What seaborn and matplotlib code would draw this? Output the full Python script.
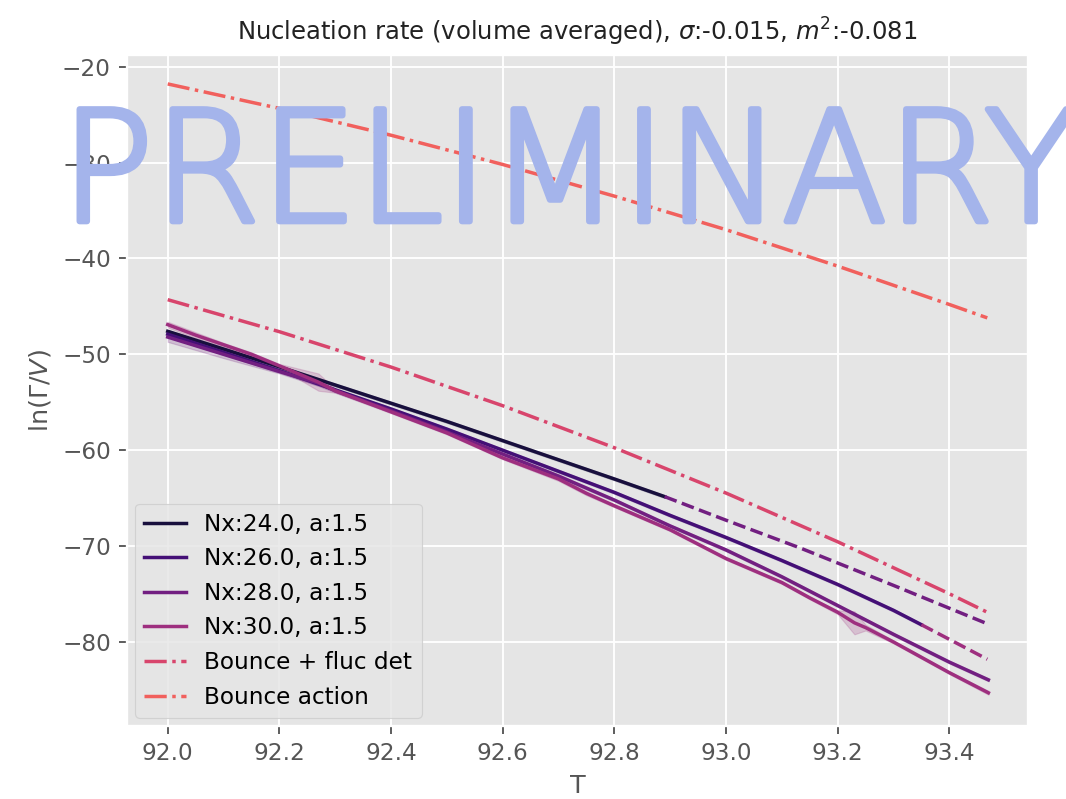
import numpy as np
import pandas as pd
import matplotlib
matplotlib.use("Agg")
import matplotlib.pyplot as plt
import matplotlib.patheffects as pe
import seaborn as sns

# ---------------- data ----------------
T_24 = [92.0, 92.1, 92.2, 92.3, 92.4, 92.5, 92.6, 92.7, 92.8, 92.89]
y_24 = [-47.6, -49.45, -51.3, -53.2, -55.1, -57.0, -59.0, -61.0, -63.0, -64.84]
s_24 = [0.15] * len(T_24)

T_26 = [92.0, 92.1, 92.2, 92.3, 92.4, 92.5, 92.6, 92.7, 92.8, 92.9, 93.0, 93.1, 93.2, 93.3, 93.35]
y_26 = [-47.9, -49.8, -51.7, -53.7, -55.7, -57.8, -60.0, -62.2, -64.4, -66.8, -69.1, -71.5, -74.0, -76.7, -78.2]
s_26 = [0.3, 0.25, 0.2, 0.15, 0.15, 0.15, 0.15, 0.15, 0.15, 0.15, 0.15, 0.15, 0.15, 0.15, 0.15]

T_28 = [92.0, 92.1, 92.2, 92.27, 92.3, 92.4, 92.5, 92.6, 92.7, 92.8, 92.9, 93.0, 93.1, 93.2, 93.3, 93.4, 93.47]
y_28 = [-48.2, -50.0, -51.8, -53.0, -53.8, -55.9, -58.1, -60.4, -62.7, -65.2, -67.9, -70.4, -73.2, -76.2, -79.2, -82.1, -83.95]
s_28 = [0.5, 0.4, 0.2, 0.3, 0.2, 0.15, 0.15, 0.15, 0.2, 0.15, 0.15, 0.15, 0.15, 0.15, 0.15, 0.15, 0.15]

T_30 = [92.0, 92.05, 92.1, 92.15, 92.2, 92.27, 92.3, 92.4, 92.5, 92.6, 92.7, 92.75, 92.8, 92.9,
        93.0, 93.1, 93.15, 93.2, 93.23, 93.25, 93.3, 93.4, 93.47]
y_30 = [-46.9, -48.0, -49.0, -50.0, -51.2, -52.9, -53.8, -56.0, -58.2, -60.8, -63.0, -64.5, -65.8, -68.3,
        -71.3, -73.8, -75.4, -76.9, -78.0, -78.5, -80.0, -83.2, -85.3]
s_30 = [0.3, 0.3, 0.2, 0.2, 0.2, 0.9, 0.2, 0.15, 0.15, 0.15, 0.2, 0.2, 0.15, 0.15,
        0.15, 0.15, 0.15, 0.2, 1.2, 0.3, 0.15, 0.15, 0.2]

# extrapolations (dashed)
T_24_ext = [92.89, 93.0, 93.133, 93.3, 93.468]
y_24_ext = [-64.84, -67.3, -70.2, -74.1, -78.1]
T_26_ext = [93.35, 93.468]
y_26_ext = [-78.2, -81.8]

T_theory = [92.0, 92.2, 92.4, 92.6, 92.8, 93.0, 93.2, 93.4, 93.468]
bounce_fluc = [-44.3, -47.64, -51.33, -55.36, -59.74, -64.47, -69.55, -74.97, -76.9]
bounce_action = [-21.8, -24.35, -27.15, -30.2, -33.5, -37.0, -40.8, -44.8, -46.2]

labels = ["Nx:24.0, a:1.5", "Nx:26.0, a:1.5", "Nx:28.0, a:1.5", "Nx:30.0, a:1.5"]
title = r"Nucleation rate (volume averaged), $\sigma$:-0.015, $m^2$:-0.081"

# ---------------- plotting ----------------
plt.style.use("ggplot")
pal = sns.color_palette("magma", 8)
c_fluc = sns.color_palette("magma", 100)[58]

dpi = 1066 / 6.4
fig = plt.figure(figsize=(6.4, 799 / dpi), dpi=dpi)
ax = fig.add_axes([0.1191, 0.0914, 0.9644 - 0.1191, 0.9312 - 0.0914])

measured = [(T_24, y_24, s_24), (T_26, y_26, s_26), (T_28, y_28, s_28), (T_30, y_30, s_30)]
for i, ((T, y, s), lab) in enumerate(zip(measured, labels)):
    T = np.asarray(T); y = np.asarray(y); s = np.asarray(s)
    df = pd.DataFrame({"T": np.concatenate([T, T]), "v": np.concatenate([y - s, y + s])})
    sns.lineplot(data=df, x="T", y="v", ax=ax, color=pal[i], errorbar=("pi", 100),
                 label=lab, lw=1.5)

sns.lineplot(x=T_24_ext, y=y_24_ext, ax=ax, color=pal[2], ls="--", lw=1.5)
sns.lineplot(x=T_26_ext, y=y_26_ext, ax=ax, color=pal[3], ls="--", lw=1.5)
sns.lineplot(x=T_theory, y=bounce_fluc, ax=ax, color=c_fluc, ls="-.", lw=1.5, label="Bounce + fluc det")
sns.lineplot(x=T_theory, y=bounce_action, ax=ax, color=pal[5], ls="-.", lw=1.5, label="Bounce action")

ax.set_xlim(91.927, 93.541)
ax.set_ylim(-88.76, -18.78)
ax.set_xticks([92.0, 92.2, 92.4, 92.6, 92.8, 93.0, 93.2, 93.4])
ax.set_yticks([-80, -70, -60, -50, -40, -30, -20])
ax.set_xlabel("T", fontsize=11)
ax.set_ylabel(r"$\ln(\Gamma/V)$", fontsize=11)
ax.set_title(title, fontsize=10.5, color="#222222")
ax.legend(loc="lower left", fontsize=10, borderaxespad=0.35, handlelength=1.8)

wm_color = "#a4b4eb"
fig.text(0.057, 0.723, "PRELIMINARY", fontsize=66.5, color=wm_color,
         ha="left", va="baseline", fontweight=200,
         path_effects=[pe.withStroke(linewidth=2.6, foreground=wm_color)])

fig.savefig("out.png", dpi=dpi)
